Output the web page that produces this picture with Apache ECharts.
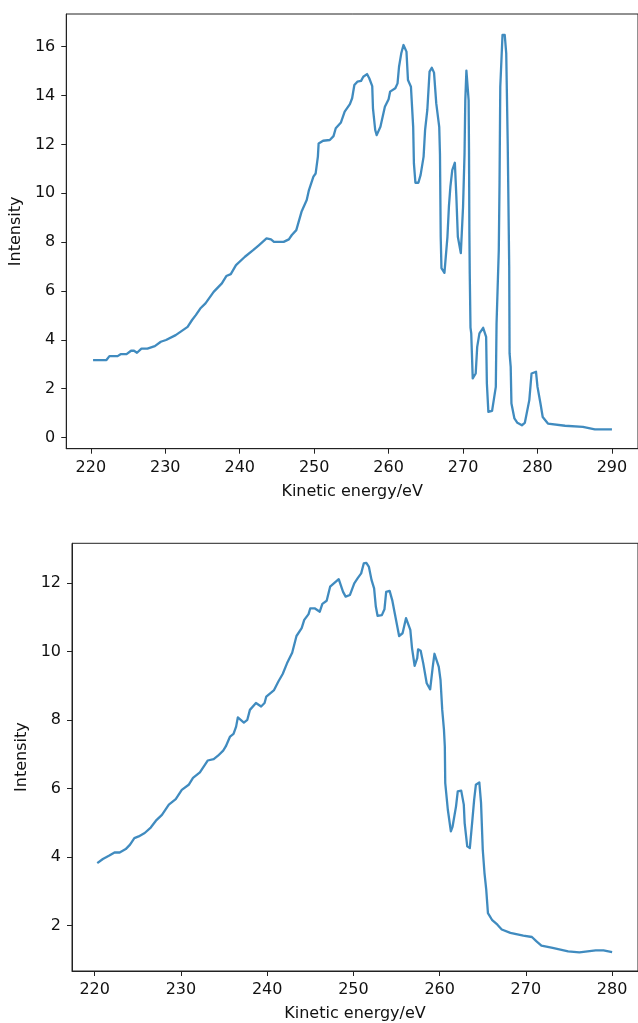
<!DOCTYPE html>
<html>
<head>
<meta charset="utf-8">
<script src="https://cdn.jsdelivr.net/npm/echarts@6/dist/echarts.min.js"></script>
<style>
  html, body { margin: 0; padding: 0; background: #fff; }
  #chart { width: 638px; height: 1023px; }
</style>
</head>
<body>
<div id="chart"></div>
<script>
// ---- Top spectrum ----
const energy1 = [220.3,222.1,222.5,223.6,224.0,224.8,225.4,225.8,226.2,226.8,227.6,228.6,229.4,230.1,231.4,233.0,233.6,234.1,234.7,235.4,236.5,237.6,238.2,238.8,239.5,240.7,241.8,242.6,243.6,244.2,244.6,245.9,246.6,247.0,247.6,248.3,249.0,249.3,249.9,250.2,250.5,250.6,251.2,252.1,252.6,252.9,253.6,254.1,254.8,255.1,255.4,255.8,256.3,256.6,257.1,257.4,257.8,257.9,258.2,258.4,258.9,259.5,260.0,260.2,260.9,261.2,261.4,261.7,262.0,262.4,262.6,263.0,263.3,263.4,263.6,264.0,264.3,264.7,264.9,265.2,265.5,265.8,266.1,266.4,266.8,266.9,267.0,267.1,267.5,267.9,268.1,268.3,268.55,268.9,269.1,269.3,269.7,270.0,270.2,270.3,270.45,270.65,270.75,270.8,270.85,270.9,271.0,271.1,271.3,271.7,271.9,272.2,272.7,273.1,273.2,273.4,273.9,274.4,274.5,274.8,274.9,275.0,275.3,275.6,275.8,276.0,276.2,276.25,276.4,276.5,276.9,277.3,277.9,278.3,278.9,279.2,279.8,280.0,280.4,280.7,281.4,283.7,286.1,287.7,290.0];
const intensity1 = [3.17,3.17,3.33,3.33,3.41,3.41,3.55,3.55,3.47,3.64,3.64,3.74,3.92,3.99,4.19,4.53,4.81,5.01,5.28,5.49,5.96,6.31,6.61,6.69,7.06,7.40,7.67,7.88,8.15,8.11,8.01,8.01,8.11,8.29,8.49,9.24,9.72,10.13,10.68,10.81,11.50,12.04,12.15,12.18,12.34,12.66,12.90,13.34,13.65,13.89,14.43,14.57,14.60,14.77,14.88,14.71,14.39,13.48,12.59,12.38,12.72,13.54,13.85,14.16,14.30,14.50,15.18,15.73,16.07,15.80,14.64,14.36,12.72,11.22,10.43,10.43,10.75,11.50,12.59,13.41,14.98,15.14,14.94,13.68,12.72,11.60,8.20,6.93,6.74,8.20,9.45,10.27,10.95,11.25,9.86,8.22,7.55,9.45,11.63,13.80,15.02,15.02,13.80,11.80,8.40,6.70,4.50,4.26,2.42,2.62,3.71,4.26,4.49,4.12,2.21,1.05,1.09,2.07,4.67,7.67,10.41,14.36,16.48,16.48,15.73,12.04,6.99,3.44,2.89,1.39,0.78,0.60,0.50,0.60,1.53,2.62,2.69,2.07,1.39,0.84,0.57,0.48,0.43,0.33,0.33];
const xTicks1 = [220,230,240,250,260,270,280,290];
const yTicks1 = [0,2,4,6,8,10,12,14,16];

// ---- Bottom spectrum ----
const energy2 = [220.3,220.95,221.7,222.3,222.9,223.6,224.1,224.6,225.1,225.8,226.5,227.1,227.8,228.6,229.4,230.1,230.9,231.4,232.2,233.1,233.8,234.3,234.9,235.2,235.7,236.1,236.4,236.6,236.8,237.3,237.7,238.0,238.7,239.3,239.7,239.9,240.8,241.3,241.8,242.3,242.9,243.4,244.0,244.3,244.8,245.0,245.5,246.1,246.4,246.9,247.3,248.3,248.8,249.1,249.6,250.1,250.5,250.9,251.2,251.5,251.8,252.1,252.4,252.6,252.8,253.3,253.6,253.8,254.2,254.5,254.8,255.3,255.7,256.1,256.6,256.8,257.1,257.4,257.5,257.8,258.1,258.5,258.9,259.1,259.2,259.4,259.6,259.9,260.1,260.3,260.5,260.6,260.65,260.95,261.3,261.5,261.9,262.1,262.5,262.8,262.9,263.2,263.5,263.8,264.0,264.2,264.6,264.8,265.0,265.2,265.4,265.6,266.1,266.7,267.2,268.2,269.7,270.7,271.2,271.8,273.1,274.9,276.2,278.1,279.0,280.0];
const intensity2 = [3.82,3.94,4.04,4.13,4.13,4.23,4.36,4.55,4.60,4.70,4.86,5.06,5.23,5.53,5.69,5.96,6.11,6.31,6.47,6.82,6.86,6.96,7.11,7.23,7.52,7.60,7.81,8.08,8.11,7.93,8.01,8.30,8.50,8.40,8.50,8.69,8.88,9.13,9.35,9.66,9.97,10.46,10.69,10.93,11.10,11.27,11.27,11.17,11.40,11.49,11.90,12.12,11.75,11.61,11.66,12.00,12.15,12.29,12.58,12.60,12.48,12.10,11.85,11.32,11.05,11.07,11.24,11.75,11.78,11.51,11.12,10.46,10.54,10.98,10.64,10.10,9.59,9.81,10.07,10.03,9.66,9.08,8.90,8.93,9.56,9.94,9.91,9.56,9.18,8.30,7.72,7.23,6.16,5.38,4.75,4.89,5.48,5.92,5.94,5.53,4.99,4.31,4.26,5.09,5.67,6.11,6.18,5.58,4.21,3.53,3.05,2.36,2.15,2.02,1.88,1.78,1.70,1.66,1.54,1.41,1.34,1.24,1.21,1.27,1.27,1.22];
const xTicks2 = [220,230,240,250,260,270,280];
const yTicks2 = [2,4,6,8,10,12];

const xName = 'Kinetic energy/eV';
const yName = 'Intensity';

const FONT = 'DejaVu Sans';
const INK = '#222';
const LINE = '#1f77b4';

function pairs(xs, ys) { return xs.map((x, i) => [x, ys[i]]); }

function xAxisCfg(gridIndex, min, max, ticks) {
  return {
    type: 'value', gridIndex, min, max, name: xName,
    nameLocation: 'middle', nameGap: 35,
    nameTextStyle: { fontFamily: FONT, fontSize: 16, color: '#111' },
    axisLine: { show: true, onZero: false, lineStyle: { color: INK, width: 1 } },
    axisTick: { show: true, length: 5, customValues: ticks, lineStyle: { color: INK } },
    axisLabel: { customValues: ticks, margin: 11, fontFamily: FONT, fontSize: 16, color: '#111' },
    splitLine: { show: false }
  };
}
function yAxisCfg(gridIndex, min, max, ticks, gap) {
  return {
    type: 'value', gridIndex, min, max, name: yName,
    nameLocation: 'middle', nameGap: gap, nameRotate: 90,
    nameTextStyle: { fontFamily: FONT, fontSize: 16, color: '#111' },
    axisLine: { show: true, onZero: false, lineStyle: { color: INK, width: 1 } },
    axisTick: { show: true, length: 5, customValues: ticks, lineStyle: { color: INK } },
    axisLabel: { customValues: ticks, margin: 11, fontFamily: FONT, fontSize: 16, color: '#111' },
    splitLine: { show: false }
  };
}

const chart = echarts.init(document.getElementById('chart'), null, { renderer: 'canvas' });
chart.setOption({
  animation: false,
  backgroundColor: '#fff',
  grid: [
    { left: 65, top: 14, width: 582.6, height: 434.7, show: true, borderColor: INK, borderWidth: 1, backgroundColor: 'transparent' },
    { left: 72, top: 543.3, width: 574.3, height: 428.4, show: true, borderColor: INK, borderWidth: 1, backgroundColor: 'transparent' }
  ],
  xAxis: [
    xAxisCfg(0, 216.7, 293.5, xTicks1),
    xAxisCfg(1, 217.37, 283.0, xTicks2)
  ],
  yAxis: [
    yAxisCfg(0, -0.46, 17.34, yTicks1, 37),
    yAxisCfg(1, 0.666, 13.17, yTicks2, 35)
  ],
  series: [
    { type: 'line', xAxisIndex: 0, yAxisIndex: 0, data: pairs(energy1, intensity1), showSymbol: false, symbol: 'none',
      lineStyle: { color: LINE, width: 2.3, opacity: 0.85, join: 'round' }, clip: true },
    { type: 'line', xAxisIndex: 1, yAxisIndex: 1, data: pairs(energy2, intensity2), showSymbol: false, symbol: 'none',
      lineStyle: { color: LINE, width: 2.3, opacity: 0.85, join: 'round' }, clip: true }
  ]
});
</script>
</body>
</html>
